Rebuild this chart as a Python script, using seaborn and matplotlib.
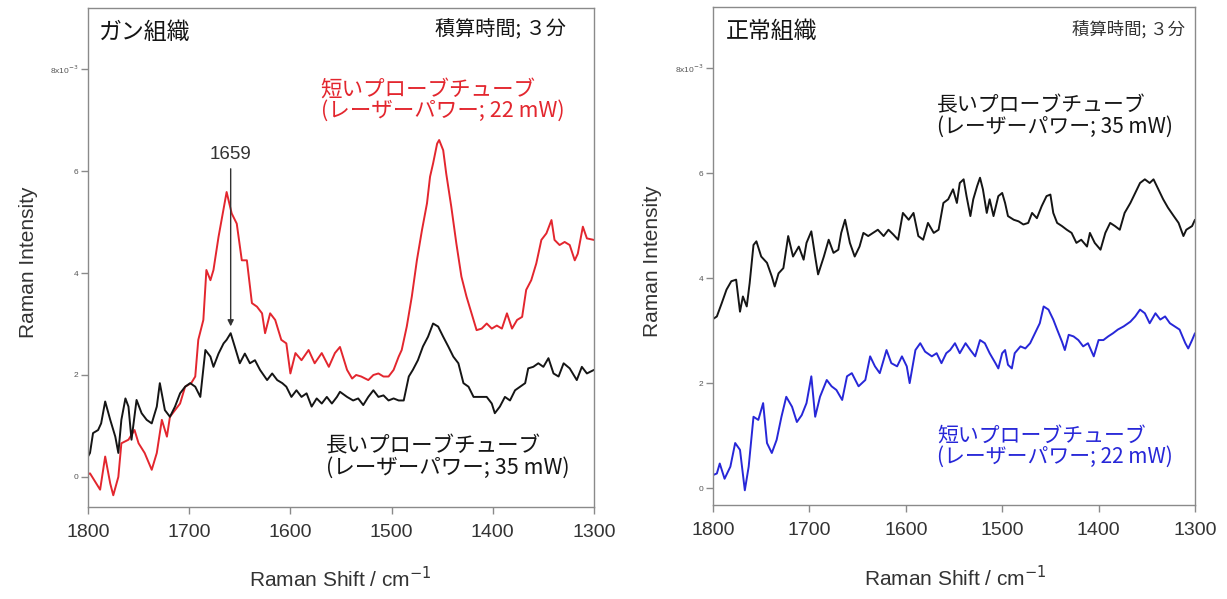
import numpy as np
import pandas as pd
import seaborn as sns
import matplotlib
matplotlib.use("Agg")
import matplotlib.pyplot as plt

# ---- data (intensity in units of 1e-3) ----
# cancer tissue, short probe tube (22 mW)
cancer_short_shift = [1800, 1798, 1788, 1783, 1778, 1775, 1770, 1767, 1760, 1754, 1750, 1744, 1737, 1732,
                      1727, 1722, 1719, 1714, 1709, 1704, 1698, 1694, 1691, 1686, 1683, 1679, 1676, 1671,
                      1668, 1663, 1658, 1653, 1648, 1643, 1638, 1633, 1628, 1625, 1620, 1615, 1609, 1604,
                      1600, 1595, 1589, 1582, 1576, 1569, 1562, 1556, 1551, 1544, 1539, 1535, 1530, 1523,
                      1518, 1513, 1508, 1503, 1498, 1493, 1490, 1485, 1480, 1475, 1470, 1465, 1462, 1459,
                      1455, 1453, 1449, 1446, 1441, 1436, 1431, 1426, 1421, 1416, 1411, 1406, 1401, 1396,
                      1391, 1386, 1381, 1376, 1371, 1367, 1362, 1357, 1352, 1347, 1342, 1339, 1334, 1329,
                      1324, 1319, 1316, 1311, 1307, 1300]
cancer_short_int = [0.05, 0.07, -0.25, 0.40, -0.13, -0.36, 0.00, 0.66, 0.73, 0.92, 0.66, 0.47, 0.14, 0.47,
                    1.12, 0.79, 1.18, 1.31, 1.44, 1.77, 1.84, 1.97, 2.69, 3.08, 4.06, 3.86, 4.06, 4.71,
                    5.04, 5.59, 5.17, 4.97, 4.25, 4.25, 3.41, 3.34, 3.21, 2.82, 3.21, 3.08, 2.69, 2.62,
                    2.03, 2.43, 2.29, 2.49, 2.23, 2.43, 2.16, 2.43, 2.55, 2.10, 1.93, 2.00, 1.97, 1.90,
                    2.00, 2.03, 1.97, 1.97, 2.10, 2.36, 2.49, 2.95, 3.54, 4.25, 4.84, 5.37, 5.89, 6.15,
                    6.54, 6.61, 6.41, 5.95, 5.30, 4.58, 3.93, 3.54, 3.21, 2.88, 2.91, 3.01, 2.91, 2.97,
                    2.91, 3.21, 2.91, 3.08, 3.14, 3.67, 3.86, 4.19, 4.65, 4.78, 5.04, 4.65, 4.55, 4.61,
                    4.55, 4.25, 4.38, 4.91, 4.68, 4.65]

# cancer tissue, long probe tube (35 mW)
cancer_long_shift = [1800, 1798, 1795, 1790, 1787, 1783, 1778, 1773, 1770, 1767, 1763, 1760, 1757, 1752,
                     1747, 1742, 1737, 1732, 1729, 1724, 1719, 1714, 1709, 1704, 1699, 1694, 1689, 1684,
                     1679, 1676, 1671, 1666, 1663, 1659, 1655, 1650, 1645, 1640, 1635, 1630, 1623, 1618,
                     1613, 1608, 1604, 1599, 1594, 1589, 1584, 1579, 1574, 1569, 1564, 1559, 1554, 1551,
                     1544, 1538, 1533, 1528, 1523, 1518, 1513, 1508, 1503, 1498, 1493, 1488, 1483, 1479,
                     1474, 1469, 1464, 1459, 1454, 1449, 1444, 1439, 1434, 1429, 1424, 1419, 1413, 1406,
                     1401, 1398, 1393, 1388, 1383, 1378, 1373, 1368, 1365, 1360, 1355, 1350, 1345, 1340,
                     1335, 1330, 1324, 1317, 1312, 1307, 1300]
cancer_long_int = [0.40, 0.47, 0.86, 0.92, 1.05, 1.48, 1.12, 0.79, 0.47, 1.12, 1.54, 1.38, 0.73, 1.51,
                   1.25, 1.12, 1.05, 1.38, 1.84, 1.31, 1.18, 1.38, 1.64, 1.77, 1.84, 1.77, 1.57, 2.49,
                   2.36, 2.16, 2.42, 2.62, 2.69, 2.82, 2.56, 2.23, 2.42, 2.23, 2.29, 2.10, 1.90, 2.03,
                   1.90, 1.84, 1.77, 1.57, 1.70, 1.57, 1.64, 1.38, 1.54, 1.44, 1.57, 1.44, 1.57, 1.67,
                   1.57, 1.50, 1.54, 1.41, 1.57, 1.70, 1.57, 1.60, 1.50, 1.54, 1.50, 1.50, 1.97, 2.10,
                   2.29, 2.56, 2.75, 3.01, 2.95, 2.75, 2.56, 2.36, 2.23, 1.84, 1.77, 1.57, 1.57, 1.57,
                   1.44, 1.25, 1.38, 1.57, 1.50, 1.70, 1.77, 1.84, 2.13, 2.16, 2.23, 2.16, 2.33, 2.03,
                   1.97, 2.23, 2.13, 1.90, 2.16, 2.03, 2.10]

# normal tissue, long probe tube (35 mW)
normal_long_shift = [1800, 1796, 1791, 1786, 1781, 1776, 1772, 1769, 1765, 1762, 1758, 1755, 1750, 1744,
                     1739, 1736, 1732, 1727, 1722, 1717, 1711, 1706, 1703, 1698, 1694, 1691, 1685, 1680,
                     1675, 1670, 1667, 1663, 1658, 1653, 1648, 1644, 1639, 1634, 1629, 1623, 1618, 1613,
                     1608, 1603, 1597, 1592, 1587, 1582, 1577, 1571, 1566, 1561, 1556, 1551, 1547, 1544,
                     1540, 1537, 1533, 1530, 1526, 1523, 1520, 1516, 1513, 1509, 1504, 1500, 1497, 1494,
                     1488, 1483, 1478, 1473, 1469, 1464, 1459, 1454, 1450, 1447, 1443, 1438, 1433, 1428,
                     1423, 1418, 1412, 1409, 1404, 1398, 1393, 1388, 1383, 1378, 1373, 1367, 1362, 1357,
                     1352, 1347, 1343, 1338, 1333, 1328, 1322, 1317, 1312, 1309, 1303, 1300]
normal_long_int = [3.22, 3.27, 3.52, 3.78, 3.94, 3.97, 3.36, 3.65, 3.46, 3.90, 4.63, 4.70, 4.41, 4.29,
                   4.03, 3.84, 4.09, 4.19, 4.80, 4.41, 4.60, 4.35, 4.67, 4.89, 4.41, 4.07, 4.41, 4.73,
                   4.48, 4.54, 4.86, 5.11, 4.67, 4.41, 4.60, 4.86, 4.80, 4.86, 4.92, 4.80, 4.92, 4.83,
                   4.73, 5.24, 5.11, 5.24, 4.80, 4.73, 5.05, 4.86, 4.92, 5.43, 5.50, 5.69, 5.43, 5.81,
                   5.88, 5.56, 5.18, 5.50, 5.75, 5.91, 5.69, 5.24, 5.50, 5.18, 5.56, 5.62, 5.43, 5.18,
                   5.11, 5.08, 5.02, 5.05, 5.24, 5.14, 5.37, 5.56, 5.59, 5.24, 5.05, 4.99, 4.92, 4.86,
                   4.67, 4.73, 4.60, 4.86, 4.67, 4.54, 4.86, 5.05, 4.99, 4.92, 5.24, 5.43, 5.62, 5.81,
                   5.88, 5.81, 5.88, 5.69, 5.50, 5.34, 5.18, 5.05, 4.80, 4.92, 4.99, 5.11]

# normal tissue, short probe tube (22 mW)
normal_short_shift = [1800, 1796, 1793, 1788, 1782, 1777, 1772, 1767, 1763, 1758, 1753, 1748, 1744, 1739,
                      1734, 1729, 1724, 1718, 1713, 1708, 1703, 1698, 1694, 1689, 1682, 1677, 1672, 1666,
                      1661, 1656, 1649, 1642, 1637, 1632, 1627, 1620, 1615, 1609, 1604, 1599, 1596, 1590,
                      1585, 1580, 1573, 1568, 1563, 1558, 1554, 1549, 1544, 1538, 1533, 1528, 1523, 1518,
                      1513, 1507, 1504, 1500, 1497, 1494, 1490, 1487, 1481, 1476, 1471, 1466, 1461, 1457,
                      1452, 1447, 1443, 1438, 1435, 1431, 1426, 1421, 1416, 1411, 1405, 1400, 1395, 1390,
                      1385, 1380, 1374, 1367, 1362, 1357, 1352, 1347, 1341, 1336, 1331, 1326, 1321, 1316,
                      1310, 1307, 1303, 1300]
normal_short_int = [0.25, 0.28, 0.47, 0.18, 0.41, 0.86, 0.73, -0.04, 0.41, 1.36, 1.30, 1.62, 0.86, 0.67,
                    0.92, 1.36, 1.74, 1.55, 1.26, 1.39, 1.62, 2.13, 1.36, 1.74, 2.06, 1.94, 1.87, 1.68,
                    2.13, 2.19, 1.94, 2.06, 2.51, 2.32, 2.19, 2.63, 2.38, 2.32, 2.51, 2.32, 2.00, 2.63,
                    2.76, 2.60, 2.51, 2.57, 2.38, 2.57, 2.63, 2.76, 2.57, 2.76, 2.63, 2.51, 2.82, 2.76,
                    2.57, 2.38, 2.28, 2.57, 2.63, 2.35, 2.28, 2.57, 2.70, 2.66, 2.76, 2.95, 3.14, 3.46,
                    3.40, 3.21, 3.02, 2.79, 2.63, 2.92, 2.89, 2.82, 2.70, 2.76, 2.51, 2.82, 2.82, 2.89,
                    2.95, 3.02, 3.08, 3.17, 3.27, 3.40, 3.33, 3.14, 3.33, 3.21, 3.27, 3.14, 3.08, 3.02,
                    2.76, 2.66, 2.82, 2.95]

y_ticks = [0, 2, 4, 6, 8]
y_tick_labels = ['0', '2', '4', '6', '8x10$^{-3}$']
x_ticks = [1800, 1700, 1600, 1500, 1400, 1300]
peak_pos = 1659

RED = '#e3262e'
BLUE = '#2727d8'
BLACK = '#151515'
GREY = '#333333'
JP = ['Noto Sans CJK JP', 'DejaVu Sans']

sns.set_theme(style="ticks")
plt.rcParams['font.family'] = ['Liberation Sans', 'Noto Sans CJK JP']
plt.rcParams['axes.edgecolor'] = '#8a8a8a'
plt.rcParams['axes.linewidth'] = 1.0

fig = plt.figure(figsize=(12.27, 5.99), dpi=100)
ax1 = fig.add_axes([0.0717, 0.1536, 0.4124, 0.8330])
ax2 = fig.add_axes([0.5811, 0.1569, 0.3928, 0.8314])


def draw(ax, series, ylim):
    for sx, sy, col in series:
        d = pd.DataFrame({'shift': sx, 'intensity': sy})
        sns.lineplot(data=d, x='shift', y='intensity', ax=ax, color=col, lw=1.4,
                     estimator=None, sort=False)
    ax.set_xlim(1800, 1300)
    ax.set_ylim(*ylim)
    ax.set_xticks(x_ticks)
    ax.set_yticks(y_ticks, labels=y_tick_labels)
    ax.tick_params(axis='x', labelsize=14, length=5, width=1, color='#8a8a8a',
                   pad=7, labelcolor=GREY)
    ax.tick_params(axis='y', labelsize=6, length=5, width=1, color='#8a8a8a',
                   pad=2, labelcolor='#555555')
    ax.set_xlabel('Raman Shift / cm$^{-1}$', fontsize=15, color=GREY)
    ax.set_ylabel('Raman Intensity', fontsize=15, color=GREY)
    for s in ax.spines.values():
        s.set_visible(True)


draw(ax1, [(cancer_short_shift, cancer_short_int, RED),
           (cancer_long_shift, cancer_long_int, BLACK)], (-0.59, 9.2))
draw(ax2, [(normal_long_shift, normal_long_int, BLACK),
           (normal_short_shift, normal_short_int, BLUE)], (-0.32, 9.16))

ax1.xaxis.set_label_coords(0.498, -0.118)
ax2.xaxis.set_label_coords(0.502, -0.12)
ax1.yaxis.set_label_coords(-0.099, 0.49)
ax2.yaxis.set_label_coords(-0.106, 0.49)

# panel texts
ax1.text(0.022, 0.952, 'ガン組織', transform=ax1.transAxes, fontsize=16.5, family=JP,
         ha='left', va='center', color=BLACK)
ax1.text(0.945, 0.956, '積算時間; ３分', transform=ax1.transAxes, fontsize=14.5, family=JP,
         ha='right', va='center', color=BLACK)
ax1.text(0.46, 0.816, '短いプローブチューブ\n(レーザーパワー; 22 mW)', transform=ax1.transAxes,
         fontsize=15.5, family=JP, ha='left', va='center', color=RED, linespacing=0.95)
ax1.text(0.47, 0.10, '長いプローブチューブ\n(レーザーパワー; 35 mW)', transform=ax1.transAxes,
         fontsize=15.5, family=JP, ha='left', va='center', color=BLACK, linespacing=0.95)

ax1.annotate('', xy=(peak_pos, 2.9), xytext=(peak_pos, 6.1),
             arrowprops=dict(arrowstyle='-|>', color=GREY, lw=1.0, mutation_scale=9))
ax1.text(peak_pos, 6.15, str(peak_pos), fontsize=13.5, ha='center', va='bottom', color=GREY)

ax2.text(0.027, 0.950, '正常組織', transform=ax2.transAxes, fontsize=16.5, family=JP,
         ha='left', va='center', color=BLACK)
ax2.text(0.979, 0.954, '積算時間; ３分', transform=ax2.transAxes, fontsize=12.5, family=JP,
         ha='right', va='center', color=GREY)
ax2.text(0.465, 0.781, '長いプローブチューブ\n(レーザーパワー; 35 mW)', transform=ax2.transAxes,
         fontsize=15, family=JP, ha='left', va='center', color=BLACK, linespacing=0.95)
ax2.text(0.465, 0.118, '短いプローブチューブ\n(レーザーパワー; 22 mW)', transform=ax2.transAxes,
         fontsize=15, family=JP, ha='left', va='center', color=BLUE, linespacing=0.95)

fig.savefig('out.png', dpi=100, facecolor='white')
